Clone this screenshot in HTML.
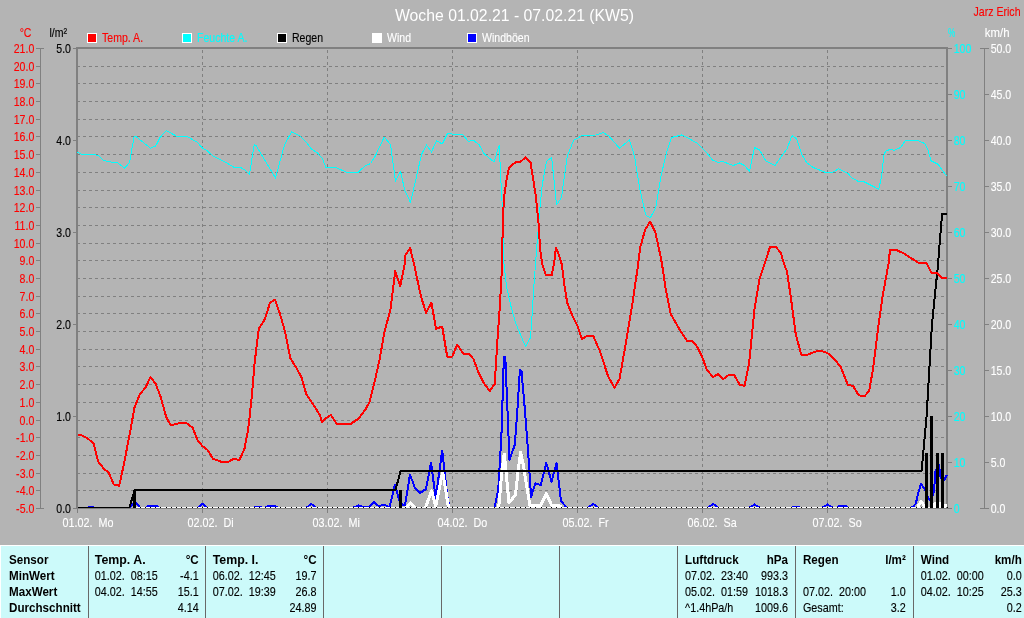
<!DOCTYPE html><html><head><meta charset="utf-8"><title>Woche 01.02.21 - 07.02.21 (KW5)</title>
<style>html,body{margin:0;padding:0;background:#b4b4b4;width:1024px;height:618px;overflow:hidden}svg{display:block;font-family:"Liberation Sans",sans-serif;will-change:transform;-webkit-font-smoothing:antialiased}</style></head><body>
<svg width="1024" height="618" viewBox="0 0 1024 618">
<rect width="1024" height="618" fill="#b4b4b4"/>
<g shape-rendering="crispEdges">
<line x1="77" x2="946" y1="66.5" y2="66.5" stroke="#808080" stroke-dasharray="3 3"/>
<line x1="77" x2="946" y1="83.5" y2="83.5" stroke="#808080" stroke-dasharray="3 3"/>
<line x1="77" x2="946" y1="101.5" y2="101.5" stroke="#808080" stroke-dasharray="3 3"/>
<line x1="77" x2="946" y1="119.5" y2="119.5" stroke="#808080" stroke-dasharray="3 3"/>
<line x1="77" x2="946" y1="136.5" y2="136.5" stroke="#808080" stroke-dasharray="3 3"/>
<line x1="77" x2="946" y1="154.5" y2="154.5" stroke="#808080" stroke-dasharray="3 3"/>
<line x1="77" x2="946" y1="172.5" y2="172.5" stroke="#808080" stroke-dasharray="3 3"/>
<line x1="77" x2="946" y1="190.5" y2="190.5" stroke="#808080" stroke-dasharray="3 3"/>
<line x1="77" x2="946" y1="207.5" y2="207.5" stroke="#808080" stroke-dasharray="3 3"/>
<line x1="77" x2="946" y1="225.5" y2="225.5" stroke="#808080" stroke-dasharray="3 3"/>
<line x1="77" x2="946" y1="243.5" y2="243.5" stroke="#808080" stroke-dasharray="3 3"/>
<line x1="77" x2="946" y1="260.5" y2="260.5" stroke="#808080" stroke-dasharray="3 3"/>
<line x1="77" x2="946" y1="278.5" y2="278.5" stroke="#808080" stroke-dasharray="3 3"/>
<line x1="77" x2="946" y1="296.5" y2="296.5" stroke="#808080" stroke-dasharray="3 3"/>
<line x1="77" x2="946" y1="313.5" y2="313.5" stroke="#808080" stroke-dasharray="3 3"/>
<line x1="77" x2="946" y1="331.5" y2="331.5" stroke="#808080" stroke-dasharray="3 3"/>
<line x1="77" x2="946" y1="349.5" y2="349.5" stroke="#808080" stroke-dasharray="3 3"/>
<line x1="77" x2="946" y1="366.5" y2="366.5" stroke="#808080" stroke-dasharray="3 3"/>
<line x1="77" x2="946" y1="384.5" y2="384.5" stroke="#808080" stroke-dasharray="3 3"/>
<line x1="77" x2="946" y1="402.5" y2="402.5" stroke="#808080" stroke-dasharray="3 3"/>
<line x1="77" x2="946" y1="420.5" y2="420.5" stroke="#808080" stroke-dasharray="3 3"/>
<line x1="77" x2="946" y1="437.5" y2="437.5" stroke="#808080" stroke-dasharray="3 3"/>
<line x1="77" x2="946" y1="455.5" y2="455.5" stroke="#808080" stroke-dasharray="3 3"/>
<line x1="77" x2="946" y1="473.5" y2="473.5" stroke="#808080" stroke-dasharray="3 3"/>
<line x1="77" x2="946" y1="490.5" y2="490.5" stroke="#808080" stroke-dasharray="3 3"/>
<line x1="202.5" x2="202.5" y1="50" y2="507" stroke="#808080" stroke-dasharray="3 3"/>
<rect x="202" y="509" width="1" height="4" fill="#808080"/>
<line x1="327.5" x2="327.5" y1="50" y2="507" stroke="#808080" stroke-dasharray="3 3"/>
<rect x="327" y="509" width="1" height="4" fill="#808080"/>
<line x1="452.5" x2="452.5" y1="50" y2="507" stroke="#808080" stroke-dasharray="3 3"/>
<rect x="452" y="509" width="1" height="4" fill="#808080"/>
<line x1="577.5" x2="577.5" y1="50" y2="507" stroke="#808080" stroke-dasharray="3 3"/>
<rect x="577" y="509" width="1" height="4" fill="#808080"/>
<line x1="702.5" x2="702.5" y1="50" y2="507" stroke="#808080" stroke-dasharray="3 3"/>
<rect x="702" y="509" width="1" height="4" fill="#808080"/>
<line x1="827.5" x2="827.5" y1="50" y2="507" stroke="#808080" stroke-dasharray="3 3"/>
<rect x="827" y="509" width="1" height="4" fill="#808080"/>
<rect x="77" y="509" width="1" height="4" fill="#808080"/>
<rect x="76" y="48" width="2" height="461" fill="#808080"/>
<rect x="76" y="47" width="872" height="2" fill="#808080"/>
<rect x="946" y="47" width="2" height="462" fill="#808080"/>
<rect x="76" y="508" width="872" height="1" fill="#808080"/>
<rect x="40" y="48" width="1" height="461" fill="#808080"/>
<rect x="36" y="48" width="8" height="1" fill="#808080"/>
<rect x="36" y="66" width="5" height="1" fill="#808080"/>
<rect x="36" y="83" width="5" height="1" fill="#808080"/>
<rect x="36" y="101" width="5" height="1" fill="#808080"/>
<rect x="36" y="119" width="5" height="1" fill="#808080"/>
<rect x="36" y="136" width="5" height="1" fill="#808080"/>
<rect x="36" y="154" width="5" height="1" fill="#808080"/>
<rect x="36" y="172" width="5" height="1" fill="#808080"/>
<rect x="36" y="190" width="5" height="1" fill="#808080"/>
<rect x="36" y="207" width="5" height="1" fill="#808080"/>
<rect x="36" y="225" width="5" height="1" fill="#808080"/>
<rect x="36" y="243" width="5" height="1" fill="#808080"/>
<rect x="36" y="260" width="5" height="1" fill="#808080"/>
<rect x="36" y="278" width="5" height="1" fill="#808080"/>
<rect x="36" y="296" width="5" height="1" fill="#808080"/>
<rect x="36" y="313" width="5" height="1" fill="#808080"/>
<rect x="36" y="331" width="5" height="1" fill="#808080"/>
<rect x="36" y="349" width="5" height="1" fill="#808080"/>
<rect x="36" y="366" width="5" height="1" fill="#808080"/>
<rect x="36" y="384" width="5" height="1" fill="#808080"/>
<rect x="36" y="402" width="5" height="1" fill="#808080"/>
<rect x="36" y="420" width="5" height="1" fill="#808080"/>
<rect x="36" y="437" width="5" height="1" fill="#808080"/>
<rect x="36" y="455" width="5" height="1" fill="#808080"/>
<rect x="36" y="473" width="5" height="1" fill="#808080"/>
<rect x="36" y="490" width="5" height="1" fill="#808080"/>
<rect x="36" y="508" width="8" height="1" fill="#808080"/>
<rect x="73" y="48" width="3" height="1" fill="#808080"/>
<rect x="73" y="140" width="3" height="1" fill="#808080"/>
<rect x="73" y="232" width="3" height="1" fill="#808080"/>
<rect x="73" y="324" width="3" height="1" fill="#808080"/>
<rect x="73" y="416" width="3" height="1" fill="#808080"/>
<rect x="73" y="508" width="3" height="1" fill="#808080"/>
<rect x="948" y="48" width="4" height="1" fill="#808080"/>
<rect x="948" y="94" width="4" height="1" fill="#808080"/>
<rect x="948" y="140" width="4" height="1" fill="#808080"/>
<rect x="948" y="186" width="4" height="1" fill="#808080"/>
<rect x="948" y="232" width="4" height="1" fill="#808080"/>
<rect x="948" y="278" width="4" height="1" fill="#808080"/>
<rect x="948" y="324" width="4" height="1" fill="#808080"/>
<rect x="948" y="370" width="4" height="1" fill="#808080"/>
<rect x="948" y="416" width="4" height="1" fill="#808080"/>
<rect x="948" y="462" width="4" height="1" fill="#808080"/>
<rect x="948" y="508" width="4" height="1" fill="#808080"/>
<rect x="984" y="48" width="1" height="461" fill="#808080"/>
<rect x="980" y="48" width="9" height="1" fill="#808080"/>
<rect x="984" y="94" width="5" height="1" fill="#808080"/>
<rect x="984" y="140" width="5" height="1" fill="#808080"/>
<rect x="984" y="186" width="5" height="1" fill="#808080"/>
<rect x="984" y="232" width="5" height="1" fill="#808080"/>
<rect x="984" y="278" width="5" height="1" fill="#808080"/>
<rect x="984" y="324" width="5" height="1" fill="#808080"/>
<rect x="984" y="370" width="5" height="1" fill="#808080"/>
<rect x="984" y="416" width="5" height="1" fill="#808080"/>
<rect x="984" y="462" width="5" height="1" fill="#808080"/>
<rect x="980" y="508" width="9" height="1" fill="#808080"/>
</g>
<g shape-rendering="crispEdges" stroke-linejoin="round">
<polyline points="77.5,152.0 81.2,154.2 91.2,154.5 98.0,155.2 103.7,160.5 111.2,162.0 117.5,162.7 124.5,168.2 129.5,162.5 134.2,136.2 136.2,136.7 150.5,148.2 155.7,146.0 160.0,137.5 166.2,130.5 176.2,136.0 186.2,136.0 197.5,142.5 202.5,148.2 206.2,150.0 212.5,155.5 217.5,158.5 223.7,161.2 233.7,167.2 240.0,167.2 245.0,170.0 249.5,174.2 254.2,144.5 256.2,145.7 275.5,178.0 284.5,145.0 291.5,132.0 300.0,135.7 306.2,142.0 311.2,148.7 317.5,153.0 322.5,158.7 326.0,168.0 329.7,167.0 336.0,167.5 346.0,172.0 358.5,172.0 364.7,166.2 370.5,163.5 375.2,156.2 384.2,137.0 390.5,144.5 395.5,181.2 400.5,171.2 404.7,190.0 410.5,202.5 416.0,178.7 421.5,154.5 426.5,145.0 431.5,152.0 436.5,140.5 442.2,144.0 447.7,133.0 453.5,134.5 463.0,135.0 468.5,141.7 473.0,140.0 479.0,144.5 484.0,153.7 494.0,162.0 499.2,145.5 501.0,182.5 503.0,220.0 504.0,264.0 506.5,286.5 511.0,306.5 516.0,324.0 525.5,346.5 530.5,337.7 532.2,314.0 534.0,284.0 535.5,264.0 539.7,210.0 542.2,185.0 546.5,161.2 551.7,157.5 556.5,205.0 561.5,197.5 567.2,156.2 573.5,140.5 582.0,135.5 595.7,135.0 603.2,132.5 609.0,136.2 619.5,148.2 629.5,140.0 634.5,156.2 639.5,187.5 645.7,215.0 650.2,218.0 655.7,207.5 660.7,177.5 666.5,152.5 671.5,137.5 681.5,135.0 687.0,137.5 697.0,143.2 702.5,148.7 707.5,153.7 712.5,160.0 718.2,162.5 722.5,161.2 728.2,163.7 733.2,165.5 739.5,163.0 744.5,165.5 749.5,171.2 754.5,147.5 759.5,150.0 765.7,160.7 775.0,165.5 787.0,148.7 792.0,135.7 796.5,138.7 802.0,155.0 807.0,163.0 813.2,167.5 819.5,170.0 825.7,172.5 833.5,172.0 838.7,168.7 848.5,173.7 851.7,178.0 858.0,181.2 863.0,181.2 878.7,189.2 881.7,176.2 883.7,156.2 885.5,151.2 890.5,149.2 894.2,150.5 900.5,147.5 905.5,140.5 918.0,140.5 925.0,143.7 928.0,150.0 931.0,160.7 938.0,164.2 946.7,176.2" fill="none" stroke="#00ffff" stroke-width="1" />
<polyline points="129.5,507.5 135.0,502.0 140.0,507.5" fill="none" stroke="#0000ff" stroke-width="2" />
<polyline points="146.5,507.5 148.5,506.0 156.5,506.0 158.5,507.5" fill="none" stroke="#0000ff" stroke-width="2" />
<polyline points="198.0,507.5 202.5,503.8 207.0,507.5" fill="none" stroke="#0000ff" stroke-width="2" />
<polyline points="254.0,507.5 255.5,506.8 260.0,506.8 261.5,507.5" fill="none" stroke="#0000ff" stroke-width="2" />
<polyline points="265.5,507.5 268.0,506.0 275.0,506.0 277.5,507.5" fill="none" stroke="#0000ff" stroke-width="2" />
<polyline points="306.7,507.5 311.2,503.8 316.0,507.5" fill="none" stroke="#0000ff" stroke-width="2" />
<polyline points="353.5,507.5 358.5,505.5 363.0,507.0 369.0,507.0 374.2,502.0 378.5,506.0 384.5,504.7 389.5,507.2 395.0,484.6 399.0,500.0 402.5,505.0 405.0,505.0 410.0,474.6 415.0,488.0 420.0,493.0 426.0,489.0 431.0,462.5 435.7,498.0 442.2,450.5 447.2,495.0 449.5,507.5" fill="none" stroke="#0000ff" stroke-width="2" />
<polyline points="494.6,507.5 498.2,490.0 500.0,460.0 501.4,436.0 503.9,356.5 505.3,357.0 509.5,460.0 514.7,445.0 517.1,414.6 519.9,370.0 521.5,371.0 524.9,410.0 528.1,451.6 531.1,497.0 535.3,483.3 540.7,485.0 546.3,463.0 551.5,481.5 556.5,463.0 561.0,500.7 566.4,507.5" fill="none" stroke="#0000ff" stroke-width="2" />
<polyline points="588.5,507.5 593.2,503.8 598.0,507.5" fill="none" stroke="#0000ff" stroke-width="2" />
<polyline points="708.5,507.5 713.2,503.8 718.0,507.5" fill="none" stroke="#0000ff" stroke-width="2" />
<polyline points="749.5,507.5 754.5,504.5 759.5,507.5" fill="none" stroke="#0000ff" stroke-width="2" />
<polyline points="792.0,507.5 793.5,506.5 798.0,506.5 799.5,507.5" fill="none" stroke="#0000ff" stroke-width="2" />
<polyline points="822.5,507.5 827.5,504.5 832.5,507.5" fill="none" stroke="#0000ff" stroke-width="2" />
<polyline points="837.5,507.5 839.5,506.0 846.0,506.0 848.0,507.5" fill="none" stroke="#0000ff" stroke-width="2" />
<polyline points="911.0,507.5 913.5,506.4 915.8,503.5 918.7,491.3 921.1,483.7 924.6,489.0 928.6,498.3 931.0,501.0 933.9,491.3 935.6,470.3 939.1,465.0 940.5,477.3 944.4,480.2 946.7,475.0" fill="none" stroke="#0000ff" stroke-width="2" />
<rect x="88" y="506" width="6" height="1" fill="#00f"/>
<rect x="135" y="507" width="811" height="1" fill="#fff"/>
<polyline points="406.0,507.5 410.5,503.0 415.0,507.5" fill="none" stroke="#ffffff" stroke-width="3" />
<polyline points="425.5,507.5 431.6,491.0 435.7,506.3 442.7,472.0 448.5,507.5" fill="none" stroke="#ffffff" stroke-width="3" />
<polyline points="498.8,507.0 501.8,472.0 504.2,454.0 506.0,470.7 509.0,503.0 515.5,494.7 518.0,472.0 520.6,452.2 523.3,464.7 526.3,484.0 530.0,505.5 540.7,505.5 546.3,493.5 551.5,505.0 557.5,505.0 561.6,507.0" fill="none" stroke="#ffffff" stroke-width="3" />
<polyline points="917.5,507.0 921.3,501.5 925.0,507.0" fill="none" stroke="#ffffff" stroke-width="3" />
<polyline points="933.0,507.0 935.0,503.0 936.0,507.0" fill="none" stroke="#ffffff" stroke-width="3" />
<polyline points="938.5,507.0 940.0,503.5 941.5,507.0" fill="none" stroke="#ffffff" stroke-width="3" />
<polyline points="943.5,506.5 945.6,505.5 946.5,505.5" fill="none" stroke="#ffffff" stroke-width="3" />
<rect x="140" y="507" width="1" height="1" fill="#000"/>
<rect x="145" y="507" width="1" height="1" fill="#000"/>
<rect x="150" y="507" width="1" height="1" fill="#000"/>
<rect x="155" y="507" width="1" height="1" fill="#000"/>
<rect x="160" y="507" width="1" height="1" fill="#000"/>
<rect x="166" y="507" width="1" height="1" fill="#000"/>
<rect x="171" y="507" width="1" height="1" fill="#000"/>
<rect x="176" y="507" width="1" height="1" fill="#000"/>
<rect x="181" y="507" width="1" height="1" fill="#000"/>
<rect x="186" y="507" width="1" height="1" fill="#000"/>
<rect x="192" y="507" width="1" height="1" fill="#000"/>
<rect x="197" y="507" width="1" height="1" fill="#000"/>
<rect x="202" y="507" width="1" height="1" fill="#000"/>
<rect x="207" y="507" width="1" height="1" fill="#000"/>
<rect x="212" y="507" width="1" height="1" fill="#000"/>
<rect x="218" y="507" width="1" height="1" fill="#000"/>
<rect x="223" y="507" width="1" height="1" fill="#000"/>
<rect x="228" y="507" width="1" height="1" fill="#000"/>
<rect x="233" y="507" width="1" height="1" fill="#000"/>
<rect x="238" y="507" width="1" height="1" fill="#000"/>
<rect x="244" y="507" width="1" height="1" fill="#000"/>
<rect x="249" y="507" width="1" height="1" fill="#000"/>
<rect x="254" y="507" width="1" height="1" fill="#000"/>
<rect x="259" y="507" width="1" height="1" fill="#000"/>
<rect x="265" y="507" width="1" height="1" fill="#000"/>
<rect x="270" y="507" width="1" height="1" fill="#000"/>
<rect x="275" y="507" width="1" height="1" fill="#000"/>
<rect x="280" y="507" width="1" height="1" fill="#000"/>
<rect x="285" y="507" width="1" height="1" fill="#000"/>
<rect x="291" y="507" width="1" height="1" fill="#000"/>
<rect x="296" y="507" width="1" height="1" fill="#000"/>
<rect x="301" y="507" width="1" height="1" fill="#000"/>
<rect x="306" y="507" width="1" height="1" fill="#000"/>
<rect x="311" y="507" width="1" height="1" fill="#000"/>
<rect x="317" y="507" width="1" height="1" fill="#000"/>
<rect x="322" y="507" width="1" height="1" fill="#000"/>
<rect x="327" y="507" width="1" height="1" fill="#000"/>
<rect x="332" y="507" width="1" height="1" fill="#000"/>
<rect x="337" y="507" width="1" height="1" fill="#000"/>
<rect x="343" y="507" width="1" height="1" fill="#000"/>
<rect x="348" y="507" width="1" height="1" fill="#000"/>
<rect x="353" y="507" width="1" height="1" fill="#000"/>
<rect x="358" y="507" width="1" height="1" fill="#000"/>
<rect x="363" y="507" width="1" height="1" fill="#000"/>
<rect x="369" y="507" width="1" height="1" fill="#000"/>
<rect x="374" y="507" width="1" height="1" fill="#000"/>
<rect x="379" y="507" width="1" height="1" fill="#000"/>
<rect x="384" y="507" width="1" height="1" fill="#000"/>
<rect x="390" y="507" width="1" height="1" fill="#000"/>
<rect x="395" y="507" width="1" height="1" fill="#000"/>
<rect x="400" y="507" width="1" height="1" fill="#000"/>
<rect x="405" y="507" width="1" height="1" fill="#000"/>
<rect x="410" y="507" width="1" height="1" fill="#000"/>
<rect x="416" y="507" width="1" height="1" fill="#000"/>
<rect x="421" y="507" width="1" height="1" fill="#000"/>
<rect x="426" y="507" width="1" height="1" fill="#000"/>
<rect x="431" y="507" width="1" height="1" fill="#000"/>
<rect x="436" y="507" width="1" height="1" fill="#000"/>
<rect x="442" y="507" width="1" height="1" fill="#000"/>
<rect x="447" y="507" width="1" height="1" fill="#000"/>
<rect x="452" y="507" width="1" height="1" fill="#000"/>
<rect x="457" y="507" width="1" height="1" fill="#000"/>
<rect x="462" y="507" width="1" height="1" fill="#000"/>
<rect x="468" y="507" width="1" height="1" fill="#000"/>
<rect x="473" y="507" width="1" height="1" fill="#000"/>
<rect x="478" y="507" width="1" height="1" fill="#000"/>
<rect x="483" y="507" width="1" height="1" fill="#000"/>
<rect x="488" y="507" width="1" height="1" fill="#000"/>
<rect x="494" y="507" width="1" height="1" fill="#000"/>
<rect x="499" y="507" width="1" height="1" fill="#000"/>
<rect x="504" y="507" width="1" height="1" fill="#000"/>
<rect x="509" y="507" width="1" height="1" fill="#000"/>
<rect x="515" y="507" width="1" height="1" fill="#000"/>
<rect x="520" y="507" width="1" height="1" fill="#000"/>
<rect x="525" y="507" width="1" height="1" fill="#000"/>
<rect x="530" y="507" width="1" height="1" fill="#000"/>
<rect x="535" y="507" width="1" height="1" fill="#000"/>
<rect x="541" y="507" width="1" height="1" fill="#000"/>
<rect x="546" y="507" width="1" height="1" fill="#000"/>
<rect x="551" y="507" width="1" height="1" fill="#000"/>
<rect x="556" y="507" width="1" height="1" fill="#000"/>
<rect x="561" y="507" width="1" height="1" fill="#000"/>
<rect x="567" y="507" width="1" height="1" fill="#000"/>
<rect x="572" y="507" width="1" height="1" fill="#000"/>
<rect x="577" y="507" width="1" height="1" fill="#000"/>
<rect x="582" y="507" width="1" height="1" fill="#000"/>
<rect x="587" y="507" width="1" height="1" fill="#000"/>
<rect x="593" y="507" width="1" height="1" fill="#000"/>
<rect x="598" y="507" width="1" height="1" fill="#000"/>
<rect x="603" y="507" width="1" height="1" fill="#000"/>
<rect x="608" y="507" width="1" height="1" fill="#000"/>
<rect x="613" y="507" width="1" height="1" fill="#000"/>
<rect x="619" y="507" width="1" height="1" fill="#000"/>
<rect x="624" y="507" width="1" height="1" fill="#000"/>
<rect x="629" y="507" width="1" height="1" fill="#000"/>
<rect x="634" y="507" width="1" height="1" fill="#000"/>
<rect x="640" y="507" width="1" height="1" fill="#000"/>
<rect x="645" y="507" width="1" height="1" fill="#000"/>
<rect x="650" y="507" width="1" height="1" fill="#000"/>
<rect x="655" y="507" width="1" height="1" fill="#000"/>
<rect x="660" y="507" width="1" height="1" fill="#000"/>
<rect x="666" y="507" width="1" height="1" fill="#000"/>
<rect x="671" y="507" width="1" height="1" fill="#000"/>
<rect x="676" y="507" width="1" height="1" fill="#000"/>
<rect x="681" y="507" width="1" height="1" fill="#000"/>
<rect x="686" y="507" width="1" height="1" fill="#000"/>
<rect x="692" y="507" width="1" height="1" fill="#000"/>
<rect x="697" y="507" width="1" height="1" fill="#000"/>
<rect x="702" y="507" width="1" height="1" fill="#000"/>
<rect x="707" y="507" width="1" height="1" fill="#000"/>
<rect x="712" y="507" width="1" height="1" fill="#000"/>
<rect x="718" y="507" width="1" height="1" fill="#000"/>
<rect x="723" y="507" width="1" height="1" fill="#000"/>
<rect x="728" y="507" width="1" height="1" fill="#000"/>
<rect x="733" y="507" width="1" height="1" fill="#000"/>
<rect x="738" y="507" width="1" height="1" fill="#000"/>
<rect x="744" y="507" width="1" height="1" fill="#000"/>
<rect x="749" y="507" width="1" height="1" fill="#000"/>
<rect x="754" y="507" width="1" height="1" fill="#000"/>
<rect x="759" y="507" width="1" height="1" fill="#000"/>
<rect x="765" y="507" width="1" height="1" fill="#000"/>
<rect x="770" y="507" width="1" height="1" fill="#000"/>
<rect x="775" y="507" width="1" height="1" fill="#000"/>
<rect x="780" y="507" width="1" height="1" fill="#000"/>
<rect x="785" y="507" width="1" height="1" fill="#000"/>
<rect x="791" y="507" width="1" height="1" fill="#000"/>
<rect x="796" y="507" width="1" height="1" fill="#000"/>
<rect x="801" y="507" width="1" height="1" fill="#000"/>
<rect x="806" y="507" width="1" height="1" fill="#000"/>
<rect x="811" y="507" width="1" height="1" fill="#000"/>
<rect x="817" y="507" width="1" height="1" fill="#000"/>
<rect x="822" y="507" width="1" height="1" fill="#000"/>
<rect x="827" y="507" width="1" height="1" fill="#000"/>
<rect x="832" y="507" width="1" height="1" fill="#000"/>
<rect x="837" y="507" width="1" height="1" fill="#000"/>
<rect x="843" y="507" width="1" height="1" fill="#000"/>
<rect x="848" y="507" width="1" height="1" fill="#000"/>
<rect x="853" y="507" width="1" height="1" fill="#000"/>
<rect x="858" y="507" width="1" height="1" fill="#000"/>
<rect x="863" y="507" width="1" height="1" fill="#000"/>
<rect x="869" y="507" width="1" height="1" fill="#000"/>
<rect x="874" y="507" width="1" height="1" fill="#000"/>
<rect x="879" y="507" width="1" height="1" fill="#000"/>
<rect x="884" y="507" width="1" height="1" fill="#000"/>
<rect x="890" y="507" width="1" height="1" fill="#000"/>
<rect x="895" y="507" width="1" height="1" fill="#000"/>
<rect x="900" y="507" width="1" height="1" fill="#000"/>
<rect x="905" y="507" width="1" height="1" fill="#000"/>
<rect x="910" y="507" width="1" height="1" fill="#000"/>
<rect x="916" y="507" width="1" height="1" fill="#000"/>
<rect x="921" y="507" width="1" height="1" fill="#000"/>
<rect x="926" y="507" width="1" height="1" fill="#000"/>
<rect x="931" y="507" width="1" height="1" fill="#000"/>
<rect x="936" y="507" width="1" height="1" fill="#000"/>
<rect x="942" y="507" width="1" height="1" fill="#000"/>
<rect x="947" y="507" width="1" height="1" fill="#000"/>
<rect x="78" y="507" width="51" height="1" fill="#000"/>
<polyline points="129.4,507.5 134.9,489.6 395.6,489.6 400.5,471.2 921.6,471.2 926.6,416.0 932.0,324.0 937.6,268.8 942.1,213.6 946.7,213.6" fill="none" stroke="#000000" stroke-width="2" />
<rect x="133" y="489.6" width="3" height="18.4" fill="#000"/>
<rect x="399" y="489.6" width="3" height="18.4" fill="#000"/>
<rect x="925" y="452.8" width="3" height="55.2" fill="#000"/>
<rect x="930" y="416.0" width="3" height="92.0" fill="#000"/>
<rect x="936" y="452.8" width="3" height="55.2" fill="#000"/>
<rect x="941" y="452.8" width="3" height="55.2" fill="#000"/>
<polyline points="77.5,435.0 81.2,435.0 88.0,438.7 93.7,443.7 98.0,461.2 103.7,468.7 108.7,472.5 113.7,484.5 119.2,485.7 123.7,465.0 130.0,432.5 134.5,407.5 140.0,394.0 145.5,387.7 150.5,377.0 155.5,383.5 160.5,396.5 166.2,417.0 170.7,425.5 180.0,423.0 186.2,423.0 192.5,427.5 197.5,440.0 202.5,446.2 207.5,450.0 213.0,458.7 221.2,461.7 228.7,461.7 233.7,458.7 239.5,460.0 244.5,448.7 248.0,430.0 249.5,418.0 252.0,394.0 254.5,364.0 258.7,329.0 265.0,319.0 270.0,302.7 275.0,299.5 280.0,314.0 285.0,331.5 290.5,358.5 296.2,367.7 301.2,376.5 306.2,394.0 312.0,402.7 320.0,415.2 322.0,422.0 326.0,418.0 331.0,415.0 336.5,423.7 351.0,423.7 358.5,418.7 366.0,408.7 369.7,401.5 374.7,381.5 379.7,359.0 384.0,334.0 390.5,309.0 395.2,271.0 400.2,286.0 404.7,264.0 405.5,255.0 410.2,248.2 414.0,264.0 417.2,279.0 421.0,296.5 426.0,312.7 431.5,302.7 436.0,329.0 442.2,326.5 447.2,356.5 452.2,356.5 457.2,344.5 463.0,353.5 468.5,353.5 473.5,359.0 478.5,372.7 483.5,382.7 489.7,391.0 494.7,384.0 497.2,344.0 499.7,309.0 502.2,264.0 502.7,222.5 504.0,197.5 506.5,180.0 509.0,167.5 516.0,162.0 520.5,161.7 525.5,157.5 530.5,162.5 533.0,177.5 536.0,197.5 538.5,222.5 540.2,250.0 542.2,264.0 546.0,275.2 551.7,275.2 554.0,264.0 556.0,247.5 559.7,257.5 561.7,264.0 564.2,284.0 567.2,302.7 572.2,315.2 577.2,325.2 582.0,339.0 587.0,336.0 593.2,336.0 599.5,350.2 608.2,376.5 614.5,387.7 619.5,379.0 625.7,344.0 632.0,306.5 638.2,264.0 640.2,247.5 645.0,230.0 650.0,221.7 655.2,231.7 660.0,253.7 662.0,264.0 665.7,289.0 670.7,314.0 680.7,331.5 687.0,340.7 692.0,340.7 697.0,346.5 702.0,356.5 707.0,370.2 713.2,377.0 718.2,374.0 723.2,379.0 729.5,374.5 734.0,374.5 739.5,384.5 744.5,386.0 749.0,364.0 754.5,309.0 759.5,279.0 764.5,264.0 770.0,247.0 775.7,247.0 780.7,252.5 784.0,264.0 787.0,271.5 790.7,296.5 795.7,334.0 801.2,354.5 808.2,354.5 817.0,351.0 822.0,351.0 828.2,353.5 834.2,359.0 840.5,366.5 848.0,385.2 853.0,385.7 858.5,395.2 864.2,396.5 869.2,391.0 873.0,369.0 878.0,329.0 883.0,294.0 888.5,264.0 890.0,250.0 896.7,250.0 904.2,253.7 918.0,262.5 926.7,263.5 931.7,273.5 936.7,272.7 941.7,277.7 946.7,277.7" fill="none" stroke="#ff0000" stroke-width="2" />
</g>
<rect x="76" y="508" width="872" height="1" fill="#808080" shape-rendering="crispEdges"/>
<text x="514.5" y="21" text-anchor="middle" font-size="16" fill="#fff" textLength="239" lengthAdjust="spacingAndGlyphs">Woche 01.02.21 - 07.02.21 (KW5)</text>
<text transform="translate(1020.5,16) scale(0.88,1)" text-anchor="end" font-size="12" fill="#ff0000" stroke="#ff0000" stroke-width="0.12">Jarz Erich</text>
<rect x="87" y="33" width="10" height="10" fill="#fff" shape-rendering="crispEdges"/><rect x="88" y="34" width="8" height="8" fill="#ff0000" shape-rendering="crispEdges"/>
<text transform="translate(102,42) scale(0.88,1)" text-anchor="start" font-size="12" fill="#ff0000" stroke="#ff0000" stroke-width="0.12">Temp. A.</text>
<rect x="182" y="33" width="10" height="10" fill="#fff" shape-rendering="crispEdges"/><rect x="183" y="34" width="8" height="8" fill="#00ffff" shape-rendering="crispEdges"/>
<text transform="translate(197,42) scale(0.88,1)" text-anchor="start" font-size="12" fill="#00ffff" stroke="#00ffff" stroke-width="0.12">Feuchte A.</text>
<rect x="277" y="33" width="10" height="10" fill="#fff" shape-rendering="crispEdges"/><rect x="278" y="34" width="8" height="8" fill="#000" shape-rendering="crispEdges"/>
<text transform="translate(292,42) scale(0.88,1)" text-anchor="start" font-size="12" fill="#000" stroke="#000" stroke-width="0.12">Regen</text>
<rect x="372" y="33" width="10" height="10" fill="#fff" shape-rendering="crispEdges"/><rect x="373" y="34" width="8" height="8" fill="#fff" shape-rendering="crispEdges"/>
<text transform="translate(387,42) scale(0.88,1)" text-anchor="start" font-size="12" fill="#fff" stroke="#fff" stroke-width="0.12">Wind</text>
<rect x="467" y="33" width="10" height="10" fill="#fff" shape-rendering="crispEdges"/><rect x="468" y="34" width="8" height="8" fill="#0000ff" shape-rendering="crispEdges"/>
<text transform="translate(482,42) scale(0.88,1)" text-anchor="start" font-size="12" fill="#fff" stroke="#fff" stroke-width="0.12">Windböen</text>
<text transform="translate(31.5,37) scale(0.88,1)" text-anchor="end" font-size="12" fill="#ff0000" stroke="#ff0000" stroke-width="0.12">°C</text>
<text transform="translate(67,37) scale(0.88,1)" text-anchor="end" font-size="12" fill="#000" stroke="#000" stroke-width="0.12">l/m²</text>
<text transform="translate(948,37) scale(0.68,1)" text-anchor="start" font-size="12" fill="#00ffff" stroke="#00ffff" stroke-width="0.12">%</text>
<text transform="translate(1009.5,37) scale(0.95,1)" text-anchor="end" font-size="12" fill="#fff" stroke="#fff" stroke-width="0.12">km/h</text>
<text transform="translate(34.3,53) scale(0.88,1)" text-anchor="end" font-size="12" fill="#ff0000" stroke="#ff0000" stroke-width="0.12">21.0</text>
<text transform="translate(34.3,71) scale(0.88,1)" text-anchor="end" font-size="12" fill="#ff0000" stroke="#ff0000" stroke-width="0.12">20.0</text>
<text transform="translate(34.3,88) scale(0.88,1)" text-anchor="end" font-size="12" fill="#ff0000" stroke="#ff0000" stroke-width="0.12">19.0</text>
<text transform="translate(34.3,106) scale(0.88,1)" text-anchor="end" font-size="12" fill="#ff0000" stroke="#ff0000" stroke-width="0.12">18.0</text>
<text transform="translate(34.3,124) scale(0.88,1)" text-anchor="end" font-size="12" fill="#ff0000" stroke="#ff0000" stroke-width="0.12">17.0</text>
<text transform="translate(34.3,141) scale(0.88,1)" text-anchor="end" font-size="12" fill="#ff0000" stroke="#ff0000" stroke-width="0.12">16.0</text>
<text transform="translate(34.3,159) scale(0.88,1)" text-anchor="end" font-size="12" fill="#ff0000" stroke="#ff0000" stroke-width="0.12">15.0</text>
<text transform="translate(34.3,177) scale(0.88,1)" text-anchor="end" font-size="12" fill="#ff0000" stroke="#ff0000" stroke-width="0.12">14.0</text>
<text transform="translate(34.3,195) scale(0.88,1)" text-anchor="end" font-size="12" fill="#ff0000" stroke="#ff0000" stroke-width="0.12">13.0</text>
<text transform="translate(34.3,212) scale(0.88,1)" text-anchor="end" font-size="12" fill="#ff0000" stroke="#ff0000" stroke-width="0.12">12.0</text>
<text transform="translate(34.3,230) scale(0.88,1)" text-anchor="end" font-size="12" fill="#ff0000" stroke="#ff0000" stroke-width="0.12">11.0</text>
<text transform="translate(34.3,248) scale(0.88,1)" text-anchor="end" font-size="12" fill="#ff0000" stroke="#ff0000" stroke-width="0.12">10.0</text>
<text transform="translate(34.3,265) scale(0.88,1)" text-anchor="end" font-size="12" fill="#ff0000" stroke="#ff0000" stroke-width="0.12">9.0</text>
<text transform="translate(34.3,283) scale(0.88,1)" text-anchor="end" font-size="12" fill="#ff0000" stroke="#ff0000" stroke-width="0.12">8.0</text>
<text transform="translate(34.3,301) scale(0.88,1)" text-anchor="end" font-size="12" fill="#ff0000" stroke="#ff0000" stroke-width="0.12">7.0</text>
<text transform="translate(34.3,318) scale(0.88,1)" text-anchor="end" font-size="12" fill="#ff0000" stroke="#ff0000" stroke-width="0.12">6.0</text>
<text transform="translate(34.3,336) scale(0.88,1)" text-anchor="end" font-size="12" fill="#ff0000" stroke="#ff0000" stroke-width="0.12">5.0</text>
<text transform="translate(34.3,354) scale(0.88,1)" text-anchor="end" font-size="12" fill="#ff0000" stroke="#ff0000" stroke-width="0.12">4.0</text>
<text transform="translate(34.3,371) scale(0.88,1)" text-anchor="end" font-size="12" fill="#ff0000" stroke="#ff0000" stroke-width="0.12">3.0</text>
<text transform="translate(34.3,389) scale(0.88,1)" text-anchor="end" font-size="12" fill="#ff0000" stroke="#ff0000" stroke-width="0.12">2.0</text>
<text transform="translate(34.3,407) scale(0.88,1)" text-anchor="end" font-size="12" fill="#ff0000" stroke="#ff0000" stroke-width="0.12">1.0</text>
<text transform="translate(34.3,425) scale(0.88,1)" text-anchor="end" font-size="12" fill="#ff0000" stroke="#ff0000" stroke-width="0.12">0.0</text>
<text transform="translate(34.3,442) scale(0.88,1)" text-anchor="end" font-size="12" fill="#ff0000" stroke="#ff0000" stroke-width="0.12">-1.0</text>
<text transform="translate(34.3,460) scale(0.88,1)" text-anchor="end" font-size="12" fill="#ff0000" stroke="#ff0000" stroke-width="0.12">-2.0</text>
<text transform="translate(34.3,478) scale(0.88,1)" text-anchor="end" font-size="12" fill="#ff0000" stroke="#ff0000" stroke-width="0.12">-3.0</text>
<text transform="translate(34.3,495) scale(0.88,1)" text-anchor="end" font-size="12" fill="#ff0000" stroke="#ff0000" stroke-width="0.12">-4.0</text>
<text transform="translate(34.3,513) scale(0.88,1)" text-anchor="end" font-size="12" fill="#ff0000" stroke="#ff0000" stroke-width="0.12">-5.0</text>
<text transform="translate(71,53) scale(0.88,1)" text-anchor="end" font-size="12" fill="#000" stroke="#000" stroke-width="0.12">5.0</text>
<text transform="translate(71,145) scale(0.88,1)" text-anchor="end" font-size="12" fill="#000" stroke="#000" stroke-width="0.12">4.0</text>
<text transform="translate(71,237) scale(0.88,1)" text-anchor="end" font-size="12" fill="#000" stroke="#000" stroke-width="0.12">3.0</text>
<text transform="translate(71,329) scale(0.88,1)" text-anchor="end" font-size="12" fill="#000" stroke="#000" stroke-width="0.12">2.0</text>
<text transform="translate(71,421) scale(0.88,1)" text-anchor="end" font-size="12" fill="#000" stroke="#000" stroke-width="0.12">1.0</text>
<text transform="translate(71,513) scale(0.88,1)" text-anchor="end" font-size="12" fill="#000" stroke="#000" stroke-width="0.12">0.0</text>
<text transform="translate(953.7,53) scale(0.88,1)" text-anchor="start" font-size="12" fill="#00ffff" stroke="#00ffff" stroke-width="0.12">100</text>
<text transform="translate(990.7,53) scale(0.88,1)" text-anchor="start" font-size="12" fill="#fff" stroke="#fff" stroke-width="0.12">50.0</text>
<text transform="translate(953.7,99) scale(0.88,1)" text-anchor="start" font-size="12" fill="#00ffff" stroke="#00ffff" stroke-width="0.12">90</text>
<text transform="translate(990.7,99) scale(0.88,1)" text-anchor="start" font-size="12" fill="#fff" stroke="#fff" stroke-width="0.12">45.0</text>
<text transform="translate(953.7,145) scale(0.88,1)" text-anchor="start" font-size="12" fill="#00ffff" stroke="#00ffff" stroke-width="0.12">80</text>
<text transform="translate(990.7,145) scale(0.88,1)" text-anchor="start" font-size="12" fill="#fff" stroke="#fff" stroke-width="0.12">40.0</text>
<text transform="translate(953.7,191) scale(0.88,1)" text-anchor="start" font-size="12" fill="#00ffff" stroke="#00ffff" stroke-width="0.12">70</text>
<text transform="translate(990.7,191) scale(0.88,1)" text-anchor="start" font-size="12" fill="#fff" stroke="#fff" stroke-width="0.12">35.0</text>
<text transform="translate(953.7,237) scale(0.88,1)" text-anchor="start" font-size="12" fill="#00ffff" stroke="#00ffff" stroke-width="0.12">60</text>
<text transform="translate(990.7,237) scale(0.88,1)" text-anchor="start" font-size="12" fill="#fff" stroke="#fff" stroke-width="0.12">30.0</text>
<text transform="translate(953.7,283) scale(0.88,1)" text-anchor="start" font-size="12" fill="#00ffff" stroke="#00ffff" stroke-width="0.12">50</text>
<text transform="translate(990.7,283) scale(0.88,1)" text-anchor="start" font-size="12" fill="#fff" stroke="#fff" stroke-width="0.12">25.0</text>
<text transform="translate(953.7,329) scale(0.88,1)" text-anchor="start" font-size="12" fill="#00ffff" stroke="#00ffff" stroke-width="0.12">40</text>
<text transform="translate(990.7,329) scale(0.88,1)" text-anchor="start" font-size="12" fill="#fff" stroke="#fff" stroke-width="0.12">20.0</text>
<text transform="translate(953.7,375) scale(0.88,1)" text-anchor="start" font-size="12" fill="#00ffff" stroke="#00ffff" stroke-width="0.12">30</text>
<text transform="translate(990.7,375) scale(0.88,1)" text-anchor="start" font-size="12" fill="#fff" stroke="#fff" stroke-width="0.12">15.0</text>
<text transform="translate(953.7,421) scale(0.88,1)" text-anchor="start" font-size="12" fill="#00ffff" stroke="#00ffff" stroke-width="0.12">20</text>
<text transform="translate(990.7,421) scale(0.88,1)" text-anchor="start" font-size="12" fill="#fff" stroke="#fff" stroke-width="0.12">10.0</text>
<text transform="translate(953.7,467) scale(0.88,1)" text-anchor="start" font-size="12" fill="#00ffff" stroke="#00ffff" stroke-width="0.12">10</text>
<text transform="translate(990.7,467) scale(0.88,1)" text-anchor="start" font-size="12" fill="#fff" stroke="#fff" stroke-width="0.12">5.0</text>
<text transform="translate(953.7,513) scale(0.88,1)" text-anchor="start" font-size="12" fill="#00ffff" stroke="#00ffff" stroke-width="0.12">0</text>
<text transform="translate(990.7,513) scale(0.88,1)" text-anchor="start" font-size="12" fill="#fff" stroke="#fff" stroke-width="0.12">0.0</text>
<text transform="translate(62.5,527) scale(0.9,1)" text-anchor="start" font-size="12" fill="#fff" stroke="#fff" stroke-width="0.12">01.02.&#160;&#160;Mo</text>
<text transform="translate(187.5,527) scale(0.9,1)" text-anchor="start" font-size="12" fill="#fff" stroke="#fff" stroke-width="0.12">02.02.&#160;&#160;Di</text>
<text transform="translate(312.5,527) scale(0.9,1)" text-anchor="start" font-size="12" fill="#fff" stroke="#fff" stroke-width="0.12">03.02.&#160;&#160;Mi</text>
<text transform="translate(437.5,527) scale(0.9,1)" text-anchor="start" font-size="12" fill="#fff" stroke="#fff" stroke-width="0.12">04.02.&#160;&#160;Do</text>
<text transform="translate(562.5,527) scale(0.9,1)" text-anchor="start" font-size="12" fill="#fff" stroke="#fff" stroke-width="0.12">05.02.&#160;&#160;Fr</text>
<text transform="translate(687.5,527) scale(0.9,1)" text-anchor="start" font-size="12" fill="#fff" stroke="#fff" stroke-width="0.12">06.02.&#160;&#160;Sa</text>
<text transform="translate(812.5,527) scale(0.9,1)" text-anchor="start" font-size="12" fill="#fff" stroke="#fff" stroke-width="0.12">07.02.&#160;&#160;So</text>
<rect x="0" y="545" width="1024" height="73" fill="#ccfafa"/>
<g shape-rendering="crispEdges">
<rect x="0" y="545" width="1024" height="1" fill="#fff"/><rect x="0" y="545" width="1" height="73" fill="#fff"/>
<rect x="88" y="546" width="1" height="72" fill="#686868"/>
<rect x="205" y="546" width="1" height="72" fill="#686868"/>
<rect x="323" y="546" width="1" height="72" fill="#686868"/>
<rect x="441" y="546" width="1" height="72" fill="#686868"/>
<rect x="559" y="546" width="1" height="72" fill="#686868"/>
<rect x="677" y="546" width="1" height="72" fill="#686868"/>
<rect x="795" y="546" width="1" height="72" fill="#686868"/>
<rect x="913" y="546" width="1" height="72" fill="#686868"/>
</g>
<text transform="translate(9,564) scale(0.97,1)" text-anchor="start" font-size="12" fill="#000" stroke="#000" stroke-width="0" font-weight="bold">Sensor</text>
<text transform="translate(9,580) scale(0.97,1)" text-anchor="start" font-size="12" fill="#000" stroke="#000" stroke-width="0" font-weight="bold">MinWert</text>
<text transform="translate(9,596) scale(0.97,1)" text-anchor="start" font-size="12" fill="#000" stroke="#000" stroke-width="0" font-weight="bold">MaxWert</text>
<text transform="translate(9,612) scale(0.97,1)" text-anchor="start" font-size="12" fill="#000" stroke="#000" stroke-width="0" font-weight="bold">Durchschnitt</text>
<text transform="translate(94.8,564) scale(1.03,1)" text-anchor="start" font-size="12" fill="#000" stroke="#000" stroke-width="0" font-weight="bold">Temp. A.</text>
<text transform="translate(198.7,564) scale(0.97,1)" text-anchor="end" font-size="12" fill="#000" stroke="#000" stroke-width="0" font-weight="bold">°C</text>
<text transform="translate(94.8,580) scale(0.9,1)" text-anchor="start" font-size="12" fill="#000" stroke="#000" stroke-width="0.12">01.02.&#160;&#160;08:15</text>
<text transform="translate(198.7,580) scale(0.9,1)" text-anchor="end" font-size="12" fill="#000" stroke="#000" stroke-width="0.12">-4.1</text>
<text transform="translate(94.8,596) scale(0.9,1)" text-anchor="start" font-size="12" fill="#000" stroke="#000" stroke-width="0.12">04.02.&#160;&#160;14:55</text>
<text transform="translate(198.7,596) scale(0.9,1)" text-anchor="end" font-size="12" fill="#000" stroke="#000" stroke-width="0.12">15.1</text>
<text transform="translate(198.7,612) scale(0.9,1)" text-anchor="end" font-size="12" fill="#000" stroke="#000" stroke-width="0.12">4.14</text>
<text transform="translate(212.657,564) scale(1.03,1)" text-anchor="start" font-size="12" fill="#000" stroke="#000" stroke-width="0" font-weight="bold">Temp. I.</text>
<text transform="translate(316.557,564) scale(0.97,1)" text-anchor="end" font-size="12" fill="#000" stroke="#000" stroke-width="0" font-weight="bold">°C</text>
<text transform="translate(212.657,580) scale(0.9,1)" text-anchor="start" font-size="12" fill="#000" stroke="#000" stroke-width="0.12">06.02.&#160;&#160;12:45</text>
<text transform="translate(316.557,580) scale(0.9,1)" text-anchor="end" font-size="12" fill="#000" stroke="#000" stroke-width="0.12">19.7</text>
<text transform="translate(212.657,596) scale(0.9,1)" text-anchor="start" font-size="12" fill="#000" stroke="#000" stroke-width="0.12">07.02.&#160;&#160;19:39</text>
<text transform="translate(316.557,596) scale(0.9,1)" text-anchor="end" font-size="12" fill="#000" stroke="#000" stroke-width="0.12">26.8</text>
<text transform="translate(316.557,612) scale(0.9,1)" text-anchor="end" font-size="12" fill="#000" stroke="#000" stroke-width="0.12">24.89</text>
<text transform="translate(685.0849999999999,564) scale(0.97,1)" text-anchor="start" font-size="12" fill="#000" stroke="#000" stroke-width="0" font-weight="bold">Luftdruck</text>
<text transform="translate(787.985,564) scale(0.97,1)" text-anchor="end" font-size="12" fill="#000" stroke="#000" stroke-width="0" font-weight="bold">hPa</text>
<text transform="translate(685.0849999999999,580) scale(0.9,1)" text-anchor="start" font-size="12" fill="#000" stroke="#000" stroke-width="0.12">07.02.&#160;&#160;23:40</text>
<text transform="translate(787.985,580) scale(0.9,1)" text-anchor="end" font-size="12" fill="#000" stroke="#000" stroke-width="0.12">993.3</text>
<text transform="translate(685.0849999999999,596) scale(0.9,1)" text-anchor="start" font-size="12" fill="#000" stroke="#000" stroke-width="0.12">05.02.&#160;&#160;01:59</text>
<text transform="translate(787.985,596) scale(0.9,1)" text-anchor="end" font-size="12" fill="#000" stroke="#000" stroke-width="0.12">1018.3</text>
<text transform="translate(685.0849999999999,612) scale(0.9,1)" text-anchor="start" font-size="12" fill="#000" stroke="#000" stroke-width="0.12">^1.4hPa/h</text>
<text transform="translate(787.985,612) scale(0.9,1)" text-anchor="end" font-size="12" fill="#000" stroke="#000" stroke-width="0.12">1009.6</text>
<text transform="translate(802.942,564) scale(0.97,1)" text-anchor="start" font-size="12" fill="#000" stroke="#000" stroke-width="0" font-weight="bold">Regen</text>
<text transform="translate(905.8420000000001,564) scale(0.97,1)" text-anchor="end" font-size="12" fill="#000" stroke="#000" stroke-width="0" font-weight="bold">l/m²</text>
<text transform="translate(802.942,596) scale(0.9,1)" text-anchor="start" font-size="12" fill="#000" stroke="#000" stroke-width="0.12">07.02.&#160;&#160;20:00</text>
<text transform="translate(905.8420000000001,596) scale(0.9,1)" text-anchor="end" font-size="12" fill="#000" stroke="#000" stroke-width="0.12">1.0</text>
<text transform="translate(802.942,612) scale(0.9,1)" text-anchor="start" font-size="12" fill="#000" stroke="#000" stroke-width="0.12">Gesamt:</text>
<text transform="translate(905.8420000000001,612) scale(0.9,1)" text-anchor="end" font-size="12" fill="#000" stroke="#000" stroke-width="0.12">3.2</text>
<text transform="translate(920.799,564) scale(0.97,1)" text-anchor="start" font-size="12" fill="#000" stroke="#000" stroke-width="0" font-weight="bold">Wind</text>
<text transform="translate(1021.8,564) scale(0.97,1)" text-anchor="end" font-size="12" fill="#000" stroke="#000" stroke-width="0" font-weight="bold">km/h</text>
<text transform="translate(920.799,580) scale(0.9,1)" text-anchor="start" font-size="12" fill="#000" stroke="#000" stroke-width="0.12">01.02.&#160;&#160;00:00</text>
<text transform="translate(1021.8,580) scale(0.9,1)" text-anchor="end" font-size="12" fill="#000" stroke="#000" stroke-width="0.12">0.0</text>
<text transform="translate(920.799,596) scale(0.9,1)" text-anchor="start" font-size="12" fill="#000" stroke="#000" stroke-width="0.12">04.02.&#160;&#160;10:25</text>
<text transform="translate(1021.8,596) scale(0.9,1)" text-anchor="end" font-size="12" fill="#000" stroke="#000" stroke-width="0.12">25.3</text>
<text transform="translate(1021.8,612) scale(0.9,1)" text-anchor="end" font-size="12" fill="#000" stroke="#000" stroke-width="0.12">0.2</text>
</svg></body></html>
